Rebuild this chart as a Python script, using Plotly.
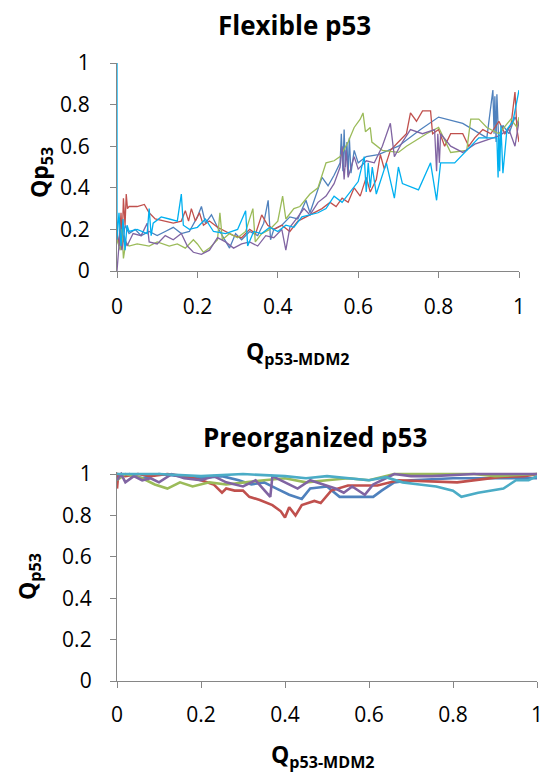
import plotly.graph_objects as go

# ---------------- data: Flexible p53 (top) ----------------
top_red_x = [0.000,0.005,0.010,0.013,0.016,0.020,0.023,0.026,0.030,0.050,0.068,0.080,0.095,0.120,0.140,0.160,0.170,0.178,0.185,0.195,0.205,0.215,0.230,0.250,0.270,0.290,0.310,0.330,0.345,0.360,0.375,0.390,0.410,0.430,0.450,0.470,0.490,0.510,0.530,0.545,0.560,0.575,0.590,0.605,0.620,0.630,0.645,0.655,0.665,0.680,0.700,0.720,0.730,0.745,0.760,0.780,0.785,0.800,0.815,0.830,0.860,0.875,0.890,0.910,0.930,0.950,0.965,0.980,0.990,0.995,1.000]
top_red_y = [0.18,0.12,0.28,0.15,0.35,0.22,0.37,0.30,0.31,0.31,0.32,0.28,0.25,0.24,0.23,0.24,0.29,0.24,0.30,0.24,0.28,0.22,0.24,0.21,0.19,0.17,0.16,0.20,0.18,0.27,0.22,0.20,0.22,0.19,0.24,0.26,0.28,0.30,0.33,0.31,0.35,0.33,0.40,0.36,0.45,0.38,0.44,0.56,0.49,0.58,0.62,0.66,0.76,0.72,0.77,0.77,0.66,0.68,0.60,0.66,0.66,0.60,0.64,0.68,0.66,0.72,0.66,0.70,0.86,0.68,0.62]

top_blue_x = [0.000,0.005,0.010,0.015,0.020,0.030,0.045,0.060,0.080,0.100,0.120,0.140,0.160,0.180,0.200,0.210,0.220,0.235,0.250,0.265,0.280,0.295,0.310,0.330,0.350,0.365,0.376,0.382,0.390,0.410,0.430,0.450,0.470,0.480,0.500,0.510,0.525,0.540,0.555,0.558,0.562,0.565,0.568,0.572,0.575,0.578,0.582,0.590,0.600,0.620,0.650,0.700,0.755,0.800,0.860,0.920,0.935,0.938,0.940,0.943,0.945,0.950,0.960,0.975,0.990,1.000]
top_blue_y = [0.20,0.12,0.24,0.14,0.22,0.18,0.20,0.17,0.19,0.17,0.19,0.21,0.18,0.19,0.26,0.31,0.23,0.27,0.21,0.16,0.11,0.18,0.15,0.19,0.17,0.23,0.34,0.15,0.20,0.22,0.26,0.25,0.34,0.28,0.40,0.45,0.41,0.46,0.52,0.66,0.48,0.68,0.50,0.62,0.46,0.64,0.47,0.58,0.52,0.55,0.56,0.60,0.68,0.74,0.71,0.64,0.87,0.66,0.84,0.62,0.85,0.60,0.70,0.66,0.74,0.70]

top_green_x = [0.000,0.008,0.012,0.016,0.022,0.030,0.050,0.080,0.100,0.130,0.150,0.170,0.190,0.200,0.215,0.230,0.250,0.256,0.262,0.280,0.300,0.320,0.338,0.344,0.360,0.380,0.400,0.412,0.420,0.440,0.455,0.480,0.500,0.520,0.540,0.555,0.575,0.590,0.605,0.612,0.618,0.630,0.634,0.660,0.700,0.720,0.770,0.800,0.830,0.870,0.880,0.900,0.920,0.950,0.980,0.995,1.000]
top_green_y = [0.15,0.10,0.20,0.06,0.14,0.12,0.13,0.12,0.14,0.12,0.13,0.11,0.15,0.13,0.09,0.11,0.15,0.28,0.15,0.18,0.16,0.19,0.30,0.14,0.18,0.20,0.24,0.36,0.25,0.30,0.31,0.37,0.40,0.52,0.53,0.55,0.62,0.69,0.73,0.76,0.67,0.69,0.62,0.58,0.57,0.60,0.66,0.69,0.57,0.58,0.73,0.73,0.69,0.66,0.73,0.69,0.74]

top_purple_x = [0.000,0.003,0.008,0.012,0.018,0.025,0.040,0.060,0.075,0.080,0.100,0.120,0.140,0.160,0.175,0.190,0.210,0.230,0.250,0.270,0.290,0.310,0.330,0.350,0.370,0.390,0.410,0.420,0.430,0.450,0.465,0.480,0.500,0.520,0.540,0.555,0.560,0.565,0.570,0.575,0.590,0.600,0.620,0.640,0.660,0.680,0.690,0.710,0.730,0.760,0.790,0.795,0.798,0.802,0.805,0.830,0.860,0.890,0.920,0.950,0.975,0.990,1.000]
top_purple_y = [0.00,0.08,0.20,0.10,0.17,0.12,0.18,0.17,0.23,0.14,0.13,0.17,0.15,0.18,0.12,0.09,0.08,0.10,0.16,0.14,0.11,0.13,0.14,0.12,0.17,0.16,0.20,0.10,0.21,0.26,0.30,0.27,0.33,0.36,0.42,0.50,0.60,0.44,0.58,0.45,0.55,0.49,0.53,0.52,0.60,0.71,0.55,0.62,0.68,0.66,0.68,0.48,0.66,0.52,0.66,0.60,0.57,0.61,0.63,0.65,0.68,0.60,0.72]

top_cyan_x = [0.000,0.000,0.005,0.010,0.015,0.020,0.025,0.030,0.050,0.075,0.080,0.085,0.090,0.110,0.130,0.150,0.160,0.165,0.180,0.200,0.220,0.240,0.270,0.300,0.320,0.325,0.340,0.360,0.380,0.400,0.420,0.440,0.460,0.480,0.500,0.520,0.540,0.560,0.580,0.600,0.615,0.620,0.625,0.630,0.635,0.645,0.670,0.690,0.700,0.710,0.750,0.780,0.795,0.805,0.840,0.900,0.945,0.948,0.950,0.952,0.955,0.960,0.970,0.985,1.000]
top_cyan_y = [1.00,0.15,0.28,0.12,0.25,0.10,0.22,0.19,0.20,0.18,0.30,0.17,0.23,0.26,0.25,0.24,0.37,0.22,0.20,0.21,0.25,0.19,0.18,0.20,0.29,0.12,0.19,0.18,0.21,0.19,0.22,0.21,0.26,0.27,0.28,0.30,0.36,0.33,0.38,0.43,0.55,0.38,0.52,0.40,0.50,0.37,0.52,0.35,0.50,0.42,0.39,0.52,0.34,0.52,0.52,0.64,0.64,0.45,0.66,0.48,0.70,0.47,0.68,0.72,0.87]

# ---------------- data: Preorganized p53 (bottom) ----------------
bot_red_x = [0.000,0.003,0.020,0.050,0.080,0.120,0.160,0.200,0.230,0.250,0.260,0.280,0.300,0.315,0.340,0.370,0.390,0.400,0.410,0.425,0.440,0.470,0.485,0.510,0.550,0.620,0.670,0.810,0.910,0.950,0.970,1.000]
bot_red_y = [0.93,1.00,0.99,1.00,0.99,1.00,0.99,0.97,0.95,0.91,0.93,0.92,0.92,0.89,0.875,0.85,0.82,0.79,0.84,0.80,0.85,0.87,0.86,0.92,0.945,0.945,0.97,0.96,0.985,0.99,0.99,1.00]

bot_blue_x = [0.000,0.030,0.060,0.100,0.150,0.200,0.250,0.290,0.320,0.350,0.380,0.410,0.440,0.460,0.500,0.530,0.560,0.610,0.630,0.660,0.700,0.800,1.000]
bot_blue_y = [0.98,1.00,0.98,1.00,0.99,0.98,0.99,0.97,0.95,0.96,0.93,0.90,0.88,0.93,0.94,0.89,0.89,0.89,0.92,0.96,0.97,0.98,0.98]

bot_green_x = [0.000,0.020,0.060,0.090,0.120,0.150,0.180,0.220,0.260,0.300,0.350,0.400,0.450,0.500,0.550,0.600,0.640,0.660,0.850,0.900,1.000]
bot_green_y = [0.97,1.00,0.98,0.95,0.93,0.96,0.94,0.96,0.95,0.96,0.97,0.98,0.96,0.97,0.98,0.97,0.99,1.00,1.00,0.99,1.00]

bot_purple_x = [0.000,0.010,0.020,0.040,0.060,0.080,0.100,0.130,0.160,0.200,0.230,0.260,0.300,0.330,0.365,0.370,0.400,0.430,0.460,0.490,0.520,0.540,0.560,0.590,0.610,0.640,0.660,0.700,0.750,0.850,1.000]
bot_purple_y = [0.97,1.00,0.96,0.99,0.97,0.98,0.96,1.00,0.98,0.97,0.99,0.96,0.94,0.97,0.89,0.99,0.96,0.93,0.97,0.95,0.93,0.91,0.94,0.90,0.95,0.98,1.00,0.99,0.99,1.00,1.00]

bot_aqua_x = [0.000,0.100,0.200,0.300,0.400,0.450,0.500,0.550,0.600,0.640,0.680,0.720,0.760,0.800,0.820,0.860,0.920,0.950,0.980,1.000]
bot_aqua_y = [1.00,1.00,0.99,1.00,0.99,0.98,0.99,0.98,0.97,0.985,0.96,0.95,0.94,0.92,0.89,0.91,0.93,0.97,0.97,0.99]

tick_vals = [0, 0.2, 0.4, 0.6, 0.8, 1]
tick_text = ["0", "0.2", "0.4", "0.6", "0.8", "1"]

# ---------------- figure ----------------
W, H = 542, 774
def px(x):
    return x / W
def py(y):
    return 1 - y / H

BLUE, RED, GREEN, PURPLE = "#4F81BD", "#C0504D", "#9BBB59", "#8064A2"
CYAN, AQUA = "#00B0F0", "#4BACC6"
FONT = "Open Sans"
AX = "#868686"

fig = go.Figure()
top = [(top_blue_x, top_blue_y, BLUE), (top_red_x, top_red_y, RED),
       (top_green_x, top_green_y, GREEN), (top_purple_x, top_purple_y, PURPLE),
       (top_cyan_x, top_cyan_y, CYAN)]
for xs, ys, c in top:
    fig.add_trace(go.Scatter(x=xs, y=ys, mode="lines", line=dict(color=c, width=1.3),
                             xaxis="x", yaxis="y", showlegend=False, hoverinfo="skip"))
bot = [(bot_blue_x, bot_blue_y, BLUE), (bot_red_x, bot_red_y, RED),
       (bot_green_x, bot_green_y, GREEN), (bot_purple_x, bot_purple_y, PURPLE),
       (bot_aqua_x, bot_aqua_y, AQUA)]
for xs, ys, c in bot:
    fig.add_trace(go.Scatter(x=xs, y=ys, mode="lines", line=dict(color=c, width=2.6),
                             xaxis="x2", yaxis="y2", showlegend=False, hoverinfo="skip"))

axcommon = dict(showgrid=False, zeroline=False, showline=True, linecolor=AX, linewidth=1.3,
                ticks="outside", ticklen=6, tickwidth=1.3, tickcolor=AX,
                tickvals=tick_vals, ticktext=tick_text, automargin=False,
                ticklabeloverflow="allow",
                tickfont=dict(family=FONT, size=21, color="#000000"),
                layer="below traces", fixedrange=True)

fig.update_layout(
    width=W, height=H, margin=dict(l=0, r=0, t=0, b=0, pad=0, autoexpand=False),
    paper_bgcolor="white", plot_bgcolor="white",
    xaxis=dict(domain=[px(117), px(519)], range=[0, 1], anchor="y", ticklabelstandoff=11, **axcommon),
    yaxis=dict(domain=[py(271), py(63)], range=[0, 1], anchor="x", ticklabelstandoff=16, **axcommon),
    xaxis2=dict(domain=[px(117), px(537)], range=[0, 1], anchor="y2", ticklabelstandoff=9, **axcommon),
    yaxis2=dict(domain=[py(681), py(472)], range=[0, 1.01], anchor="x2", ticklabelstandoff=14, **axcommon),
)

def ann(text, x, y, size, angle=0):
    fig.add_annotation(text=text, x=px(x), y=py(y), xref="paper", yref="paper",
                       xanchor="center", yanchor="middle", showarrow=False,
                       textangle=angle, font=dict(family=FONT, size=size, color="#000000"))

ann("<b>Flexible p53</b>", 294, 25, 26)
ann("<b>Preorganized p53</b>", 315, 437, 26)
ann("<b>Q<sub>p53-MDM2</sub></b>", 298, 352, 23)
ann("<b>Q<sub>p53-MDM2</sub></b>", 323, 755, 23)
ann("<b>Qp<sub>53</sub></b>", 40, 173, 23, -90)
ann("<b>Q<sub>p53</sub></b>", 28, 577, 23, -90)

fig.write_html("out.html", config={"displayModeBar": False},
               post_script="document.body.style.margin='0';")
